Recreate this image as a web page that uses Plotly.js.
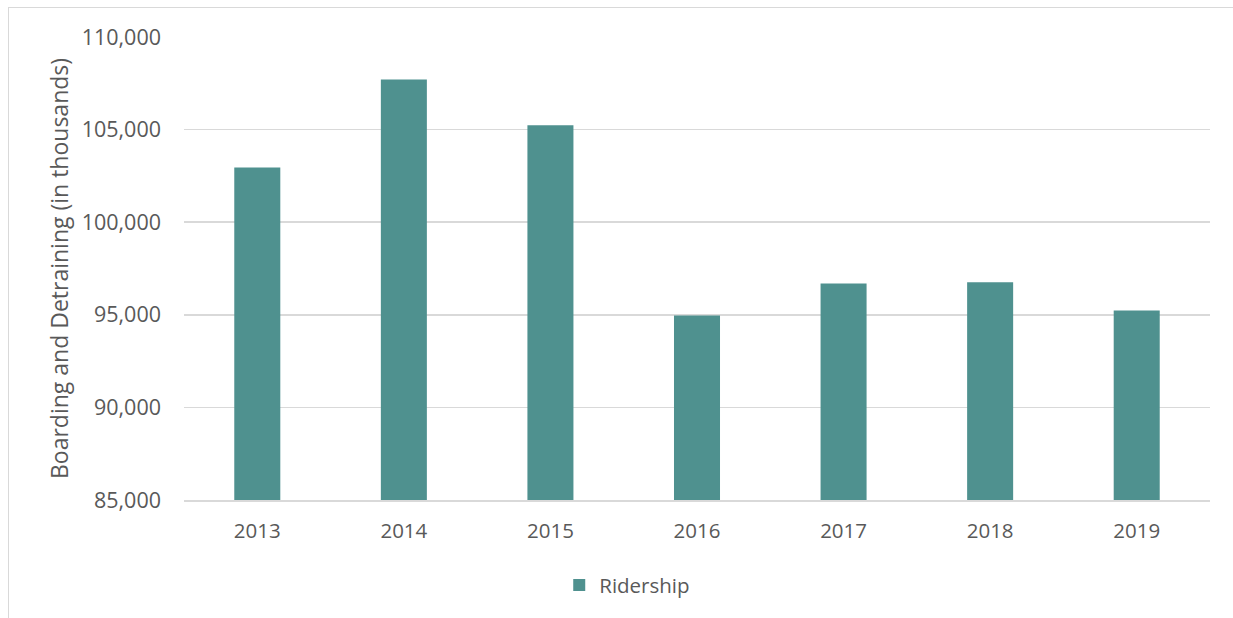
<!DOCTYPE html>
<html>
<head>
<meta charset="utf-8">
<script src="https://cdn.plot.ly/plotly-3.0.1.min.js"></script>
<style>
  html, body { margin: 0; padding: 0; background: #fff; overflow: hidden; }
  #chart { width: 1233px; height: 618px; }
  #frame { position: absolute; left: 8px; top: 7px; width: 1300px; height: 700px;
           border-left: 1.5px solid #d9d9d9; border-top: 1.5px solid #d9d9d9; pointer-events: none; }
</style>
</head>
<body>
<div id="chart"></div>
<div id="frame"></div>
<script>
const years = ['2013', '2014', '2015', '2016', '2017', '2018', '2019'];
const ridership = [102950, 107700, 105235, 94960, 96690, 96760, 95236];
const seriesName = 'Ridership';
const yTicks = [85000, 90000, 95000, 100000, 105000, 110000];

const fam = '"Open Sans", "Liberation Sans", sans-serif';
const font = { family: fam, color: '#595959', size: 20.5 };
const yFont = { family: fam, color: '#595959', size: 21.5 };
const titleFont = { family: fam, color: '#595959', size: 23 };

Plotly.newPlot('chart', [{
  type: 'bar',
  x: years,
  y: ridership,
  name: seriesName,
  marker: { color: '#4f918f', line: { width: 0 } },
  showlegend: true
}], {
  width: 1233, height: 618,
  margin: { l: 184, r: 23, t: 37, b: 118 },
  paper_bgcolor: '#fff', plot_bgcolor: '#fff',
  font: font,
  bargap: 0.686,
  xaxis: {
    type: 'category',
    showline: true, linecolor: '#d9d9d9', linewidth: 1.5,
    showgrid: false, ticks: '', ticklabelstandoff: 12,
    tickfont: font
  },
  yaxis: {
    range: [85000, 110000],
    tickvals: yTicks,
    tickformat: ',d',
    showgrid: true, gridcolor: '#d9d9d9', gridwidth: 1.5,
    zeroline: false, showline: false, ticks: '',
    ticklabelstandoff: 22,
    tickfont: yFont,
    title: { text: 'Boarding and Detraining (in thousands)', font: titleFont, standoff: 6 }
  },
  showlegend: true,
  legend: {
    orientation: 'h', x: 0.432, xanchor: 'center', y: -0.184, yanchor: 'middle',
    font: font, itemwidth: 30
  }
}, { displayModeBar: false, staticPlot: true });
</script>
</body>
</html>
